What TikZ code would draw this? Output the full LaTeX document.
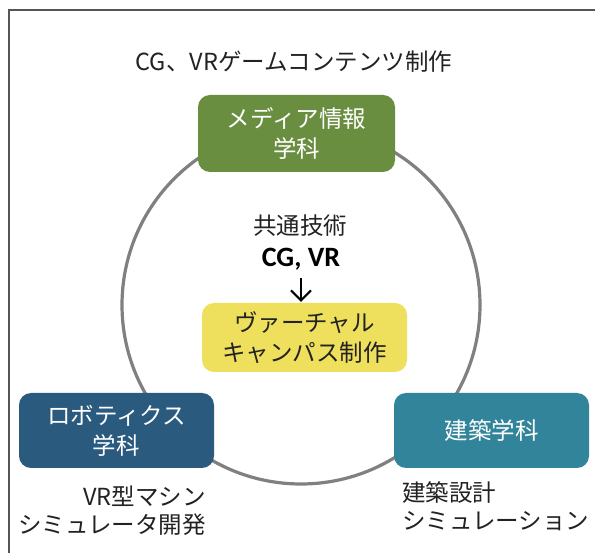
\documentclass[tikz,border=0pt]{standalone}
\usepackage{fontspec}
\setmainfont{Noto Sans CJK JP}
\newfontfamily\latinbold{Carlito}
\usetikzlibrary{arrows.meta}
\definecolor{frameC}{HTML}{555555}
\definecolor{ringC}{HTML}{808080}
\definecolor{greenC}{HTML}{6A8E3F}
\definecolor{blueC}{HTML}{2A5B7F}
\definecolor{tealC}{HTML}{31849A}
\definecolor{yellowC}{HTML}{EEDF5C}
\definecolor{txtC}{HTML}{222222}
\tikzset{
  dept/.style={rounded corners=12pt, inner sep=0pt, align=center, text=white,
    font=\fontsize{23.5}{30}\selectfont},
  plain/.style={inner sep=0pt, text=txtC, font=\fontsize{23.5}{28}\selectfont},
  ring/.style={draw=ringC, line width=3.2pt},
  arr/.style={draw=black, line width=2pt, -{Straight Barb[length=10pt,width=20pt,line width=2pt]}},
}
\begin{document}
\begin{tikzpicture}[x=1pt,y=-1pt]
\useasboundingbox (0,0) rectangle (595,553);
\fill[white] (0,0) rectangle (595,553);
% frame
\draw[frameC, line width=1.5pt] (9,553) -- (9,10) -- (595,10);
% ring
\draw[ring] (301,305) circle (179pt);
% departments
\node[dept, fill=greenC, minimum width=197pt, minimum height=77pt] (media) at (296.5,133.5) {メディア情報\\学科};
\node[dept, fill=blueC, minimum width=195pt, minimum height=75pt] (robo) at (116.5,430.5) {ロボティクス\\学科};
\node[dept, fill=tealC, minimum width=195pt, minimum height=75pt] (arch) at (491.5,430.5) {建築学科};
\node[dept, fill=yellowC, text=txtC, minimum width=205pt, minimum height=69pt] (campus) at (304.5,337.5) {ヴァーチャル\\キャンパス制作};
% texts
\node[plain] (title) at (294,62) {CG、VRゲームコンテンツ制作};
\node[plain] (common) at (300,226) {共通技術};
\node[plain, text=black, font=\latinbold\bfseries\fontsize{28}{30}\selectfont] (cgvr) at (301,259) {CG, VR};
\node[plain, anchor=east, align=right] (robotxt) at (206,511) {VR型マシン\\シミュレータ開発};
\node[plain, anchor=west, align=left] (archtxt) at (402,506) {建築設計\\シミュレーション};
% arrow
\coordinate (a0) at (301,278);
\draw[arr] (a0) -- ([yshift=1pt]campus.north -| a0);
\end{tikzpicture}
\end{document}
